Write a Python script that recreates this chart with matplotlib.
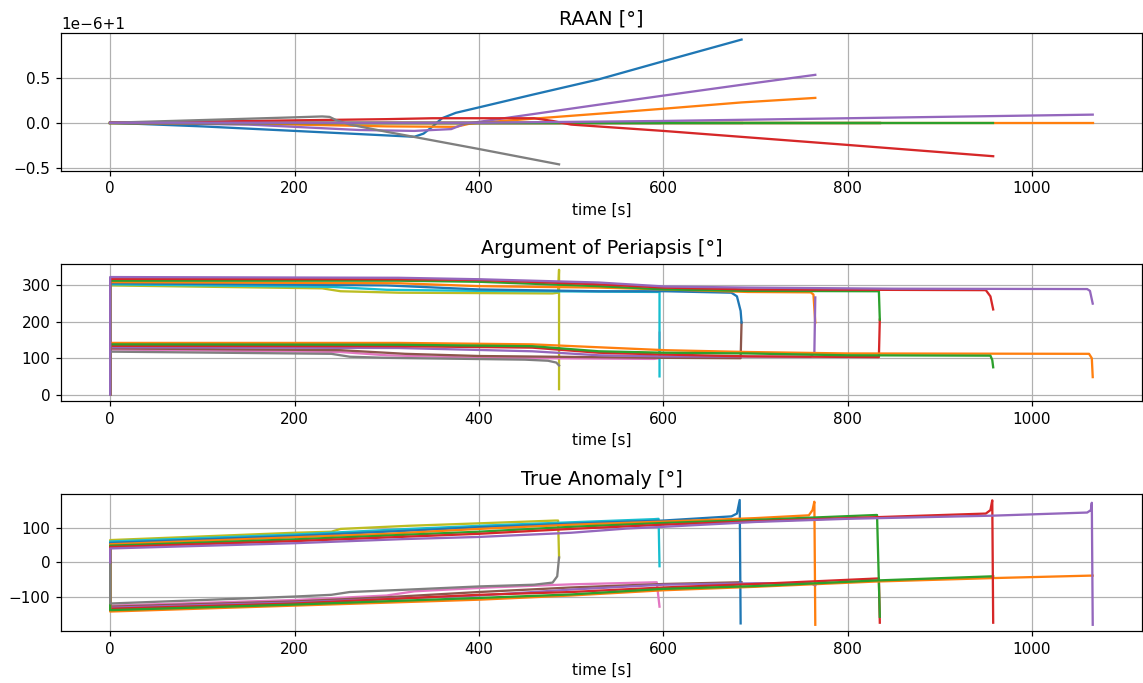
import matplotlib
matplotlib.use("Agg")
import matplotlib.pyplot as plt

# ---- data: (time [s], value) ----
# RAAN, in 1e-6 deg around 1 deg
raan_olive = [(0, 0), (487, 0)]
raan_pink = [(0, 0), (596, 0)]
raan_cyan = [(0, 0), (596, 0)]
raan_brown = [(0, 0), (685, 0)]
raan_blue = [(0, 0), (100, -0.04), (200, -0.09), (300, -0.14), (330, -0.155), (340, -0.12),
             (350, -0.04), (360, 0.05), (375, 0.11), (400, 0.17), (458, 0.31), (530, 0.48),
             (600, 0.68), (685, 0.92)]
raan_orange_up = [(0, 0), (200, -0.02), (300, -0.04), (375, -0.045), (390, -0.01), (400, 0.0),
                  (530, 0.1), (600, 0.155), (685, 0.225), (765, 0.275)]
raan_purple_lo = [(0, 0), (150, -0.02), (270, -0.08), (330, -0.09), (370, -0.07), (385, -0.01),
                  (400, 0.01), (530, 0.2), (600, 0.3), (685, 0.42), (765, 0.53)]
raan_red_lo = [(0, 0), (835, 0)]
raan_green_up = [(0, 0), (835, 0)]
raan_orange_lo = [(0, 0), (1066, 0)]
raan_green_lo = [(0, 0), (958, 0)]
raan_red_up = [(0, 0), (150, 0.02), (300, 0.04), (350, 0.05), (460, 0.05), (480, 0.02),
               (500, -0.02), (600, -0.09), (800, -0.245), (958, -0.37)]
raan_gray = [(0, 0), (100, 0.03), (200, 0.06), (230, 0.07), (238, 0.065), (245, 0.03),
             (260, -0.02), (300, -0.10), (400, -0.29), (487, -0.46)]
raan_purple_up = [(0, 0), (400, 0.0), (600, 0.02), (800, 0.05), (1066, 0.09)]

# Argument of periapsis [deg]
aop_olive = [(0, 0), (0, 300), (230, 292), (250, 284), (313, 280), (480, 278), (486, 280),
             (487, 343), (487, 15)]
aop_pink = [(0, 0), (0, 124), (250, 117), (300, 108), (400, 101), (590, 98), (596, 100), (596, 170)]
aop_cyan = [(0, 0), (0, 303), (240, 296), (300, 288), (400, 285), (530, 283), (594, 282),
            (596, 284), (596, 50)]
aop_brown = [(0, 0), (0, 127), (250, 122), (320, 112), (400, 106), (600, 101), (684, 100), (685, 198)]
aop_blue = [(0, 0), (0, 306), (300, 300), (400, 289), (530, 284), (602, 284), (674, 280),
            (680, 270), (684, 230), (685, 198)]
aop_orange_up = [(0, 0), (0, 309), (313, 306), (400, 298), (530, 294), (602, 289), (692, 282),
                 (760, 281), (763, 275), (765, 198)]
aop_purple_lo = [(0, 0), (0, 130), (313, 128), (458, 119), (530, 108), (602, 105), (760, 104),
                 (764, 115), (765, 267)]
aop_red_lo = [(0, 0), (0, 134), (313, 133), (458, 129), (530, 115), (602, 110), (692, 105),
              (834, 103), (835, 206)]
aop_green_up = [(0, 0), (0, 313), (313, 313), (400, 310), (530, 298), (602, 289), (692, 285),
                (834, 284), (835, 206)]
aop_orange_lo = [(0, 0), (0, 142), (313, 142), (458, 138), (530, 130), (602, 122), (692, 117),
                 (800, 113), (1062, 112), (1065, 100), (1066, 48)]
aop_green_lo = [(0, 0), (0, 138), (313, 137), (458, 133), (530, 119), (602, 115), (692, 113),
                (800, 108), (955, 107), (957, 95), (958, 75)]
aop_red_up = [(0, 0), (0, 318), (313, 317), (400, 315), (530, 303), (602, 294), (692, 289),
              (950, 287), (955, 270), (958, 234)]
aop_gray = [(0, 0), (0, 118), (240, 112), (260, 104), (300, 101), (450, 96), (475, 93),
            (484, 88), (487, 80)]
aop_purple_up = [(0, 0), (0, 323), (313, 321), (400, 317), (530, 308), (602, 297), (692, 294),
                 (850, 291), (1060, 290), (1063, 285), (1066, 250)]

# True anomaly [deg]
ta_olive = [(0, 0), (0, 64), (200, 85), (240, 88), (250, 96), (324, 105), (400, 112),
            (483, 120), (486, 120), (487, 14)]
ta_pink = [(0, 0), (0, -124), (200, -108), (300, -95), (330, -83), (410, -72), (500, -63),
           (593, -57), (596, -127)]
ta_cyan = [(0, 0), (0, 60), (200, 80), (324, 96), (410, 106), (500, 115), (590, 124),
           (595, 125), (596, -11)]
ta_brown = [(0, 0), (0, -127), (200, -112), (300, -100), (400, -85), (500, -72), (600, -62),
            (685, -57)]
ta_blue = [(0, 0), (0, 56), (200, 76), (324, 91), (400, 101), (540, 115), (600, 120),
           (674, 132), (680, 140), (683, 179), (684, -175)]
ta_orange_up = [(0, 0), (0, 52), (200, 72), (300, 82), (400, 96), (500, 108), (600, 117),
                (700, 127), (758, 135), (762, 150), (764, 174), (765, -179)]
ta_purple_lo = [(0, 0), (0, -130), (200, -115), (400, -95), (500, -78), (600, -64), (700, -60),
                (760, -60), (765, -66)]
ta_red_lo = [(0, 0), (0, -133), (200, -118), (400, -93), (500, -85), (600, -72), (700, -62),
             (834, -46), (835, -173)]
ta_green_up = [(0, 0), (0, 48), (200, 66), (400, 88), (500, 102), (600, 113), (700, 122),
               (832, 136), (835, -156)]
ta_orange_lo = [(0, 0), (0, -141), (200, -124), (400, -107), (500, -95), (600, -80), (700, -70),
                (830, -55), (958, -45), (1063, -38), (1066, -38)]
ta_green_lo = [(0, 0), (0, -137), (200, -121), (400, -102), (500, -92), (600, -76), (700, -68),
               (830, -52), (957, -40), (958, -40)]
ta_red_up = [(0, 0), (0, 44), (200, 61), (400, 82), (500, 96), (600, 108), (700, 118),
             (800, 127), (950, 140), (955, 150), (957, 178), (958, -173)]
ta_gray = [(0, 0), (0, -118), (200, -98), (240, -93), (260, -85), (324, -78), (400, -69),
           (460, -64), (480, -58), (485, -40), (487, 14)]
ta_purple_up = [(0, 0), (0, 40), (200, 55), (320, 67), (400, 73), (500, 85), (560, 97),
                (600, 102), (700, 116), (800, 125), (957, 134), (1060, 143), (1064, 150),
                (1065, 171), (1066, -179)]

line_colors = ['C8', 'C6', 'C9', 'C5', 'C0', 'C1', 'C4', 'C3', 'C2', 'C1', 'C2', 'C3', 'C7', 'C4']

raan_lines = [raan_olive, raan_pink, raan_cyan, raan_brown, raan_blue, raan_orange_up,
              raan_purple_lo, raan_red_lo, raan_green_up, raan_orange_lo, raan_green_lo,
              raan_red_up, raan_gray, raan_purple_up]
aop_lines = [aop_olive, aop_pink, aop_cyan, aop_brown, aop_blue, aop_orange_up, aop_purple_lo,
             aop_red_lo, aop_green_up, aop_orange_lo, aop_green_lo, aop_red_up, aop_gray,
             aop_purple_up]
ta_lines = [ta_olive, ta_pink, ta_cyan, ta_brown, ta_blue, ta_orange_up, ta_purple_lo,
            ta_red_lo, ta_green_up, ta_orange_lo, ta_green_lo, ta_red_up, ta_gray, ta_purple_up]

titles = ['RAAN [°]', 'Argument of Periapsis [°]', 'True Anomaly [°]']

fig, axs = plt.subplots(3, 1, figsize=(1143 / 110, 683 / 110), dpi=110)
fig.subplots_adjust(left=0.0534, right=0.999, top=0.9512, bottom=0.0761, hspace=0.677)

for ax, lines, title in zip(axs, [raan_lines, aop_lines, ta_lines], titles):
    for pts, c in zip(lines, line_colors):
        t, v = zip(*pts)
        if lines is raan_lines:
            v = [1 + d * 1e-6 for d in v]
        ax.plot(t, v, color=c)
    ax.set_title(title, fontsize=12.5)
    ax.set_xlabel('time [s]')
    ax.grid(True)

fig.savefig('out.png', dpi=110)
